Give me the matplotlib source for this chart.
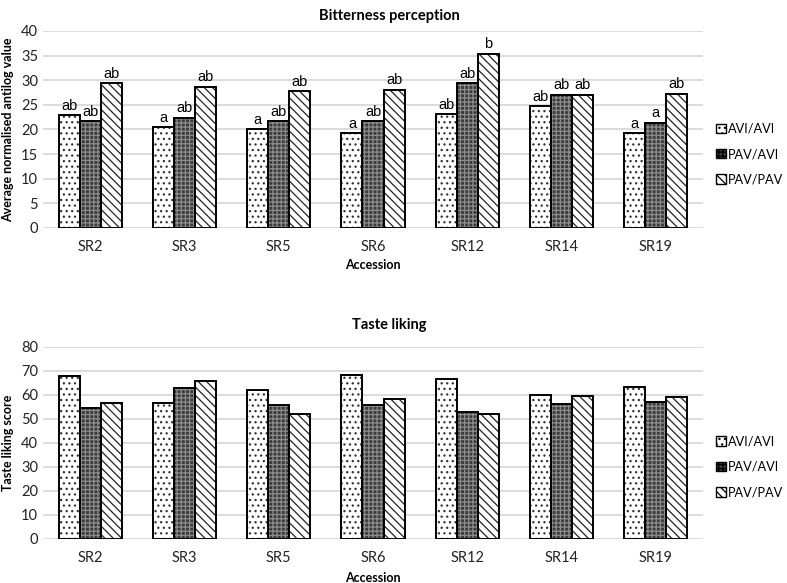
import matplotlib
matplotlib.use('Agg')
import numpy as np
from matplotlib import pyplot as plt
from matplotlib.patches import Patch

accessions = ['SR2', 'SR3', 'SR5', 'SR6', 'SR12', 'SR14', 'SR19']
groups = ['AVI/AVI', 'PAV/AVI', 'PAV/PAV']

# bitterness perception (average normalised antilog value)
bitter_avi_avi = [22.9, 20.5, 20.1, 19.2, 23.1, 24.7, 19.2]
bitter_pav_avi = [21.7, 22.4, 21.7, 21.7, 29.4, 27.1, 21.4]
bitter_pav_pav = [29.4, 28.7, 27.8, 28.1, 35.4, 27.1, 27.3]
letters_avi_avi = ['ab', 'a', 'a', 'a', 'ab', 'ab', 'a']
letters_pav_avi = ['ab', 'ab', 'ab', 'ab', 'ab', 'ab', 'a']
letters_pav_pav = ['ab', 'ab', 'ab', 'ab', 'b', 'ab', 'ab']

# taste liking score
liking_avi_avi = [67.7, 56.6, 61.8, 68.1, 66.7, 60.0, 63.4]
liking_pav_avi = [54.4, 62.9, 55.6, 55.6, 52.8, 56.2, 57.1]
liking_pav_pav = [56.6, 65.7, 51.9, 58.1, 51.9, 59.6, 59.1]

plt.rcParams['font.family'] = ['Lato', 'DejaVu Sans']
plt.rcParams['hatch.linewidth'] = 0.9

# face, hatch, hatch colour
styles = [('white', '...', '#333333'),
          ('#3c3c3c', '++++', '#8c8c8c'),
          ('white', '\\\\\\\\', '#222222')]
width = 0.223

W, H = 787, 583
fig = plt.figure(figsize=(W / 100, H / 100), dpi=100)


def draw(ax, series, ymax, step, ylabel, title, tpad, xpad, letters=None):
    x = np.arange(len(accessions))
    for i, vals in enumerate(series):
        face, hatch, hcol = styles[i]
        pos = x + (i - 1) * width
        ax.bar(pos, vals, width, color=face, hatch=hatch, edgecolor=hcol,
               linewidth=0, zorder=2)
        ax.bar(pos, vals, width, fill=False, edgecolor='black', linewidth=1.4,
               zorder=3)
        if letters is not None:
            for p, v, t in zip(pos, vals, letters[i]):
                ax.text(p, v + ymax * 0.012, t, ha='center', va='bottom',
                        fontsize=10.5, family='Liberation Sans')
    ax.set_xlim(-0.5, len(accessions) - 0.5)
    ax.set_ylim(0, ymax)
    ax.set_yticks(np.arange(0, ymax + 1, step))
    ax.set_xticks(x)
    ax.set_xticklabels(accessions)
    ax.tick_params(length=0, labelsize=10.5, colors='#222222')
    ax.tick_params(axis='x', pad=9)
    ax.grid(axis='y', color='#d9d9d9', linewidth=1.3, zorder=0)
    ax.set_axisbelow(True)
    for s in ax.spines.values():
        s.set_visible(False)
    ax.set_ylabel(ylabel, fontsize=9, fontweight='bold', labelpad=5)
    ax.set_xlabel('Accession', fontsize=9, fontweight='bold', labelpad=xpad)
    ax.set_title(title, fontsize=10.5, fontweight='bold', x=0.525, pad=tpad)
    handles = [Patch(facecolor=styles[i][0], hatch=styles[i][1],
                     edgecolor='black', linewidth=1) for i in range(3)]
    ax.legend(handles, groups, loc='center left', bbox_to_anchor=(1.012, 0.375),
              borderaxespad=0, frameon=False, fontsize=9.2, handlelength=0.75,
              handleheight=0.75, handletextpad=0.2, labelspacing=1.05)


ax1 = fig.add_axes([43 / W, 1 - 228 / H, 660 / W, 197 / H])
draw(ax1, [bitter_avi_avi, bitter_pav_avi, bitter_pav_pav], 40, 5,
     'Average normalised antilog value', 'Bitterness perception', 8, 3,
     [letters_avi_avi, letters_pav_avi, letters_pav_pav])

ax2 = fig.add_axes([43 / W, 1 - 539 / H, 660 / W, 192.3 / H])
draw(ax2, [liking_avi_avi, liking_pav_avi, liking_pav_pav], 80, 10,
     'Taste liking score', 'Taste liking', 13, 5)

fig.savefig('out.png', dpi=100)
